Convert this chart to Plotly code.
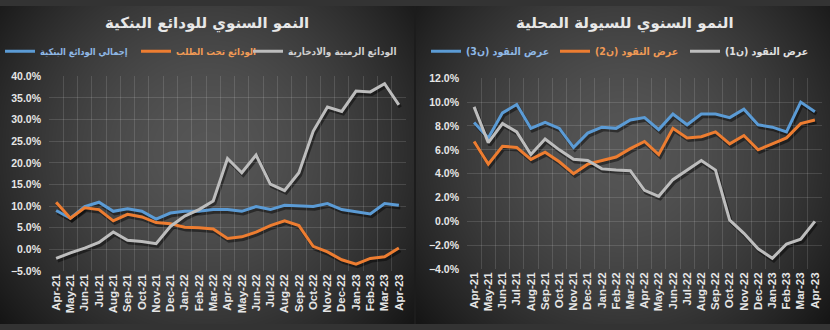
import base64
import struct
import zlib

import numpy as np
import plotly.graph_objects as go

# ---------------------------------------------------------------- data
months = ["Apr-21", "May-21", "Jun-21", "Jul-21", "Aug-21", "Sep-21", "Oct-21",
          "Nov-21", "Dec-21", "Jan-22", "Feb-22", "Mar-22", "Apr-22", "May-22",
          "Jun-22", "Jul-22", "Aug-22", "Sep-22", "Oct-22", "Nov-22", "Dec-22",
          "Jan-23", "Feb-23", "Mar-23", "Apr-23"]

# Annual growth of bank deposits (%)
total_deposits = [9.0, 7.2, 9.9, 10.9, 8.8, 9.4, 8.8, 7.0, 8.4, 8.8, 8.8, 9.2, 9.2,
                  8.8, 9.9, 9.2, 10.2, 10.1, 9.9, 10.6, 9.2, 8.7, 8.2, 10.6, 10.2]
demand_deposits = [10.9, 7.2, 9.6, 9.2, 6.6, 8.1, 7.5, 6.2, 5.9, 5.1, 5.0, 4.7, 2.5,
                   2.9, 4.0, 5.5, 6.6, 5.5, 0.7, -0.6, -2.4, -3.4, -2.1, -1.7, 0.3]
time_savings_deposits = [-2.1, -0.8, 0.3, 1.6, 4.0, 2.1, 1.8, 1.3, 5.3, 7.7, 9.2, 11.2,
                         21.0, 17.7, 21.8, 15.1, 13.6, 17.7, 27.3, 32.9, 31.9, 36.6,
                         36.4, 38.3, 33.4]

# Annual growth of domestic liquidity (%)
money_m3 = [8.3, 7.0, 9.1, 9.8, 7.8, 8.3, 7.8, 6.2, 7.4, 7.9, 7.8, 8.5, 8.7, 7.7,
            9.0, 8.1, 9.0, 9.0, 8.7, 9.4, 8.1, 7.9, 7.5, 10.0, 9.2]
money_m2 = [6.7, 4.8, 6.3, 6.2, 5.2, 5.8, 5.0, 4.0, 4.8, 5.1, 5.4, 6.1, 6.7, 5.6,
            7.8, 7.0, 7.1, 7.5, 6.5, 7.2, 6.0, 6.5, 7.0, 8.2, 8.5]
money_m1 = [9.6, 6.6, 8.2, 7.5, 5.6, 6.9, 6.0, 5.2, 5.1, 4.4, 4.3, 4.25, 2.6, 2.1,
            3.5, 4.3, 5.1, 4.3, 0.1, -1.0, -2.3, -3.1, -1.9, -1.5, 0.0]

RLM = "\u200f"
title_left = "النمو السنوي للودائع البنكية"
title_right = "النمو السنوي للسيولة المحلية"
names_left = ["إجمالي الودائع البنكية", "الودائع تحت الطلب", "الودائع الزمنية والادخارية"]
names_right = ["عرض النقود (ن3)", "عرض النقود (ن2)", "عرض النقود (ن1)"]

BLUE, ORANGE, GREY = "#5B9BD5", "#ED7D31", "#BDBDBD"
TXT_BLUE, TXT_ORANGE = "#8FB8E6", "#F09A55"

W, H = 830, 330


# ---------------------------------------------------------------- background
def vignette_png():
    yy, xx = np.mgrid[0:H, 0:W].astype(float)
    img = np.full((H, W), 28.0)
    for x0, x1 in [(0, 414), (416, W)]:
        cx, cy = (x0 + x1) / 2, 150.0
        rx, ry = (x1 - x0) * 0.62, H * 0.80
        d = np.sqrt(((xx - cx) / rx) ** 2 + ((yy - cy) / ry) ** 2)
        v = 86 - 60 * np.clip(d, 0, 1.15) ** 1.6
        m = (xx >= x0) & (xx < x1)
        img[m] = v[m]
    img = np.clip(img, 0, 255).astype(np.uint8)
    rgb = np.stack([img, img, img], axis=-1)
    raw = b"".join(b"\x00" + rgb[r].tobytes() for r in range(H))

    def chunk(tag, data):
        c = struct.pack(">I", len(data)) + tag + data
        return c + struct.pack(">I", zlib.crc32(tag + data) & 0xFFFFFFFF)

    png = b"\x89PNG\r\n\x1a\n"
    png += chunk(b"IHDR", struct.pack(">IIBBBBB", W, H, 8, 2, 0, 0, 0))
    png += chunk(b"IDAT", zlib.compress(raw, 9))
    png += chunk(b"IEND", b"")
    return "data:image/png;base64," + base64.b64encode(png).decode()


# ---------------------------------------------------------------- panels
panels = [
    dict(xd=(49, 406), yd=(73, 275), rng=(-5, 40), dt=5,
         series=[total_deposits, demand_deposits, time_savings_deposits],
         names=names_left, legend_x=[0, 136, 248], legend_size=[9.2, 9.6, 9.9],
         txt=[TXT_BLUE, TXT_ORANGE, "#D0D0D0"]),
    dict(xd=(467, 822), yd=(75, 273), rng=(-4, 12), dt=2,
         series=[money_m3, money_m2, money_m1],
         names=names_right, legend_x=[426, 555, 685], legend_size=[10.5, 10.5, 10.5],
         txt=[TXT_BLUE, TXT_ORANGE, "#E0E0E0"]),
]
colors = [BLUE, ORANGE, GREY]

fig = go.Figure()
layout_axes = {}
legends = {}
SHX, SHY = 1.5, 2.5  # drop-shadow offset in pixels
tick_font = dict(family="Liberation Sans, Arial", color="#E6E6E6", weight="bold")
legend_n = 0

for p, panel in enumerate(panels):
    xd = [panel["xd"][0] / W, panel["xd"][1] / W]
    yd = [1 - panel["yd"][1] / H, 1 - panel["yd"][0] / H]
    sxd = [xd[0] + SHX / W, xd[1] + SHX / W]
    syd = [yd[0] - SHY / H, yd[1] - SHY / H]
    shadow_id = p + 1       # subplots 1,2 : shadows (drawn first)
    main_id = p + 3         # subplots 3,4 : visible axes and lines

    for ax_id, xdom, ydom, visible in [(shadow_id, sxd, syd, False),
                                       (main_id, xd, yd, True)]:
        xa = "xaxis" if ax_id == 1 else f"xaxis{ax_id}"
        ya = "yaxis" if ax_id == 1 else f"yaxis{ax_id}"
        layout_axes[xa] = dict(
            domain=xdom, anchor=f"y{'' if ax_id == 1 else ax_id}",
            type="category", categoryorder="array", categoryarray=months,
            range=[-0.5, len(months) - 0.5], tickson="boundaries",
            tickmode="array", tickvals=months, ticktext=months,
            showgrid=visible, gridcolor="rgba(255,255,255,0.13)", gridwidth=1,
            showline=False, zeroline=False, ticks="",
            showticklabels=visible, tickangle=-90,
            tickfont=dict(size=11.5, **tick_font), fixedrange=True,
        )
        layout_axes[ya] = dict(
            domain=ydom, anchor=f"x{'' if ax_id == 1 else ax_id}",
            range=list(panel["rng"]), dtick=panel["dt"], tick0=0,
            showgrid=visible, gridcolor="rgba(255,255,255,0.13)", gridwidth=1,
            zeroline=False, showline=False, ticks="",
            showticklabels=visible, ticksuffix="%", tickformat=".1f",
            tickfont=dict(size=10.5, **tick_font),
            ticklabelstandoff=7, fixedrange=True,
        )

    sx = "x" if shadow_id == 1 else f"x{shadow_id}"
    sy = "y" if shadow_id == 1 else f"y{shadow_id}"
    for vals in panel["series"]:
        fig.add_trace(go.Scatter(x=months, y=vals, xaxis=sx, yaxis=sy,
                                 mode="lines", showlegend=False, hoverinfo="skip",
                                 line=dict(color="rgba(0,0,0,0.45)", width=3.5)))
    for k, vals in enumerate(panel["series"]):
        legend_n += 1
        lg = "legend" if legend_n == 1 else f"legend{legend_n}"
        legends[lg] = dict(
            x=panel["legend_x"][k] / W, xanchor="left", y=1 - 47 / H, yanchor="middle",
            orientation="h", bgcolor="rgba(0,0,0,0)", itemwidth=30,
            font=dict(family="DejaVu Sans Condensed, DejaVu Sans",
                      size=panel["legend_size"][k], color=panel["txt"][k]),
        )
        label = f"<b>{RLM}{panel['names'][k]}{RLM}</b>"
        fig.add_trace(go.Scatter(x=months, y=vals, xaxis=f"x{main_id}", yaxis=f"y{main_id}",
                                 mode="lines", name=label, legend=lg,
                                 line=dict(color=colors[k], width=3)))

title_font = dict(family="DejaVu Sans", size=15, color="#E8E8E8")
fig.update_layout(
    width=W, height=H,
    margin=dict(l=0, r=0, t=0, b=0),
    paper_bgcolor="#333333", plot_bgcolor="rgba(0,0,0,0)",
    showlegend=True,
    images=[dict(source=vignette_png(), xref="paper", yref="paper", x=0, y=1,
                 sizex=1, sizey=1, xanchor="left", yanchor="top",
                 sizing="stretch", layer="below")],
    annotations=[
        dict(text=f"<b>{title_left}</b>", x=207 / W, y=1 - 18 / H, xref="paper",
             yref="paper", showarrow=False, xanchor="center", yanchor="middle",
             font=title_font),
        dict(text=f"<b>{title_right}</b>", x=625 / W, y=1 - 18 / H, xref="paper",
             yref="paper", showarrow=False, xanchor="center", yanchor="middle",
             font=title_font),
    ],
    **legends,
    **layout_axes,
)

fig.write_html("out.html")
